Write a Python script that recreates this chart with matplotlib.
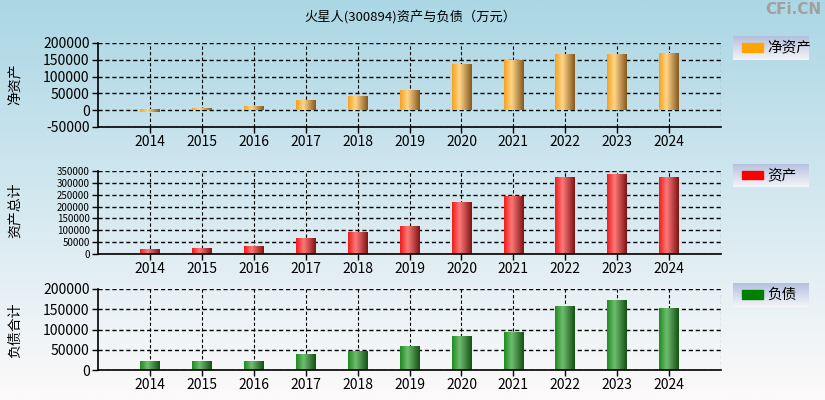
import matplotlib
matplotlib.use("Agg")
import matplotlib.pyplot as plt
import numpy as np
from matplotlib.colors import LinearSegmentedColormap

plt.rcParams['font.family'] = ['Liberation Sans Narrow', 'Noto Sans CJK SC', 'DejaVu Sans']

years = ['2014', '2015', '2016', '2017', '2018', '2019', '2020', '2021', '2022', '2023', '2024']
net_assets = [-6000, 4000, 10000, 28000, 40000, 58000, 136000, 148000, 166000, 166000, 169000]
total_assets = [18000, 22000, 30500, 64000, 89000, 118000, 218000, 243000, 322000, 335000, 322000]
liabilities = [21000, 21000, 21000, 38000, 46000, 58000, 83000, 93000, 156000, 171000, 153000]

fig = plt.figure(figsize=(8.25, 4), dpi=100)

# background gradient
bg = fig.add_axes([0, 0, 1, 1], zorder=-10)
bg_cmap = LinearSegmentedColormap.from_list('bg', ['#abd7e4', '#d4e8f0', '#fdfafa'])
bg.imshow(np.linspace(0, 1, 256).reshape(-1, 1), aspect='auto', cmap=bg_cmap,
          extent=(0, 1, 0, 1), origin='upper')
bg.set_axis_off()

fig.text(0.497, 0.955, '火星人(300894)资产与负债（万元）', ha='center', va='center', fontsize=9.5)
fig.text(0.995, 0.975, 'CFi.CN', ha='right', va='center', fontsize=11,
         color='#a0a0a0', fontweight='bold', family=['DejaVu Sans'])


def cyl_cmap(base, light, dark):
    return LinearSegmentedColormap.from_list('c', [(0, base), (0.38, light), (1, dark)])


def panel(rect, values, ylim, step, cmap, ylabel, ylabel_y, tick_fs, leg_rect, leg_color, leg_text):
    ax = fig.add_axes(rect)
    ax.set_facecolor('none')
    x = np.arange(len(years))
    width = 0.38
    grad = np.linspace(0, 1, 64).reshape(1, -1)
    for xi, v in zip(x, values):
        y0, y1 = min(0, v), max(0, v)
        ax.imshow(grad, aspect='auto', cmap=cmap, extent=(xi - width / 2, xi + width / 2, y0, y1),
                  zorder=3, interpolation='bilinear')
    ax.set_xlim(-1, len(years))
    ax.set_ylim(*ylim)
    yt = np.arange(ylim[0], ylim[1] + 1, step)
    ax.set_yticks(yt)
    ax.set_yticklabels([str(int(t)) for t in yt], fontsize=tick_fs)
    ax.set_xticks(x)
    ax.set_xticklabels(years, fontsize=10)
    for t in yt:
        ax.axhline(t, color='black', lw=1, ls=(0, (3, 2)), zorder=1)
    for xi in list(x) + [len(years)]:
        ax.axvline(xi, color='black', lw=0.8, ls=(0, (3, 2)), zorder=1)
    for s in ['top', 'right']:
        ax.spines[s].set_visible(False)
    for s in ['left', 'bottom']:
        ax.spines[s].set_linewidth(1.2)
        ax.spines[s].set_zorder(5)
    ax.tick_params(axis='both', length=4, width=1, pad=2)
    fig.text(0.018, ylabel_y, ylabel, rotation=90, ha='center', va='center', fontsize=10)

    lg = fig.add_axes(leg_rect)
    lg_cmap = LinearSegmentedColormap.from_list('lg', ['#b4c0de', '#f4f5fa'])
    lg.imshow(np.linspace(0, 1, 64).reshape(-1, 1), aspect='auto', cmap=lg_cmap,
              extent=(0, 1, 0, 1), origin='upper')
    lg.add_patch(plt.Rectangle((0.12, 0.33), 0.29, 0.38, color=leg_color))
    lg.text(0.46, 0.52, leg_text, va='center', ha='left', fontsize=10.5)
    lg.set_xlim(0, 1)
    lg.set_ylim(0, 1)
    lg.set_axis_off()
    return ax


panel([0.1188, 0.6825, 0.7552, 0.21], net_assets, (-50000, 200000), 50000,
      cyl_cmap('#f5a21e', '#ffd58a', '#86591c'), '净资产', 0.79, 10,
      [0.888, 0.85, 0.091, 0.06], '#ffa500', '净资产')
panel([0.1188, 0.365, 0.7552, 0.2075], total_assets, (0, 350000), 50000,
      cyl_cmap('#ee1c1c', '#ff7878', '#801414'), '资产总计', 0.475, 7,
      [0.888, 0.5325, 0.091, 0.058], '#ff0000', '资产')
panel([0.1188, 0.075, 0.7552, 0.2025], liabilities, (0, 200000), 50000,
      cyl_cmap('#1f8c1f', '#70bd70', '#145214'), '负债合计', 0.175, 10,
      [0.888, 0.233, 0.091, 0.059], '#008000', '负债')

fig.savefig('out.png', dpi=100)
